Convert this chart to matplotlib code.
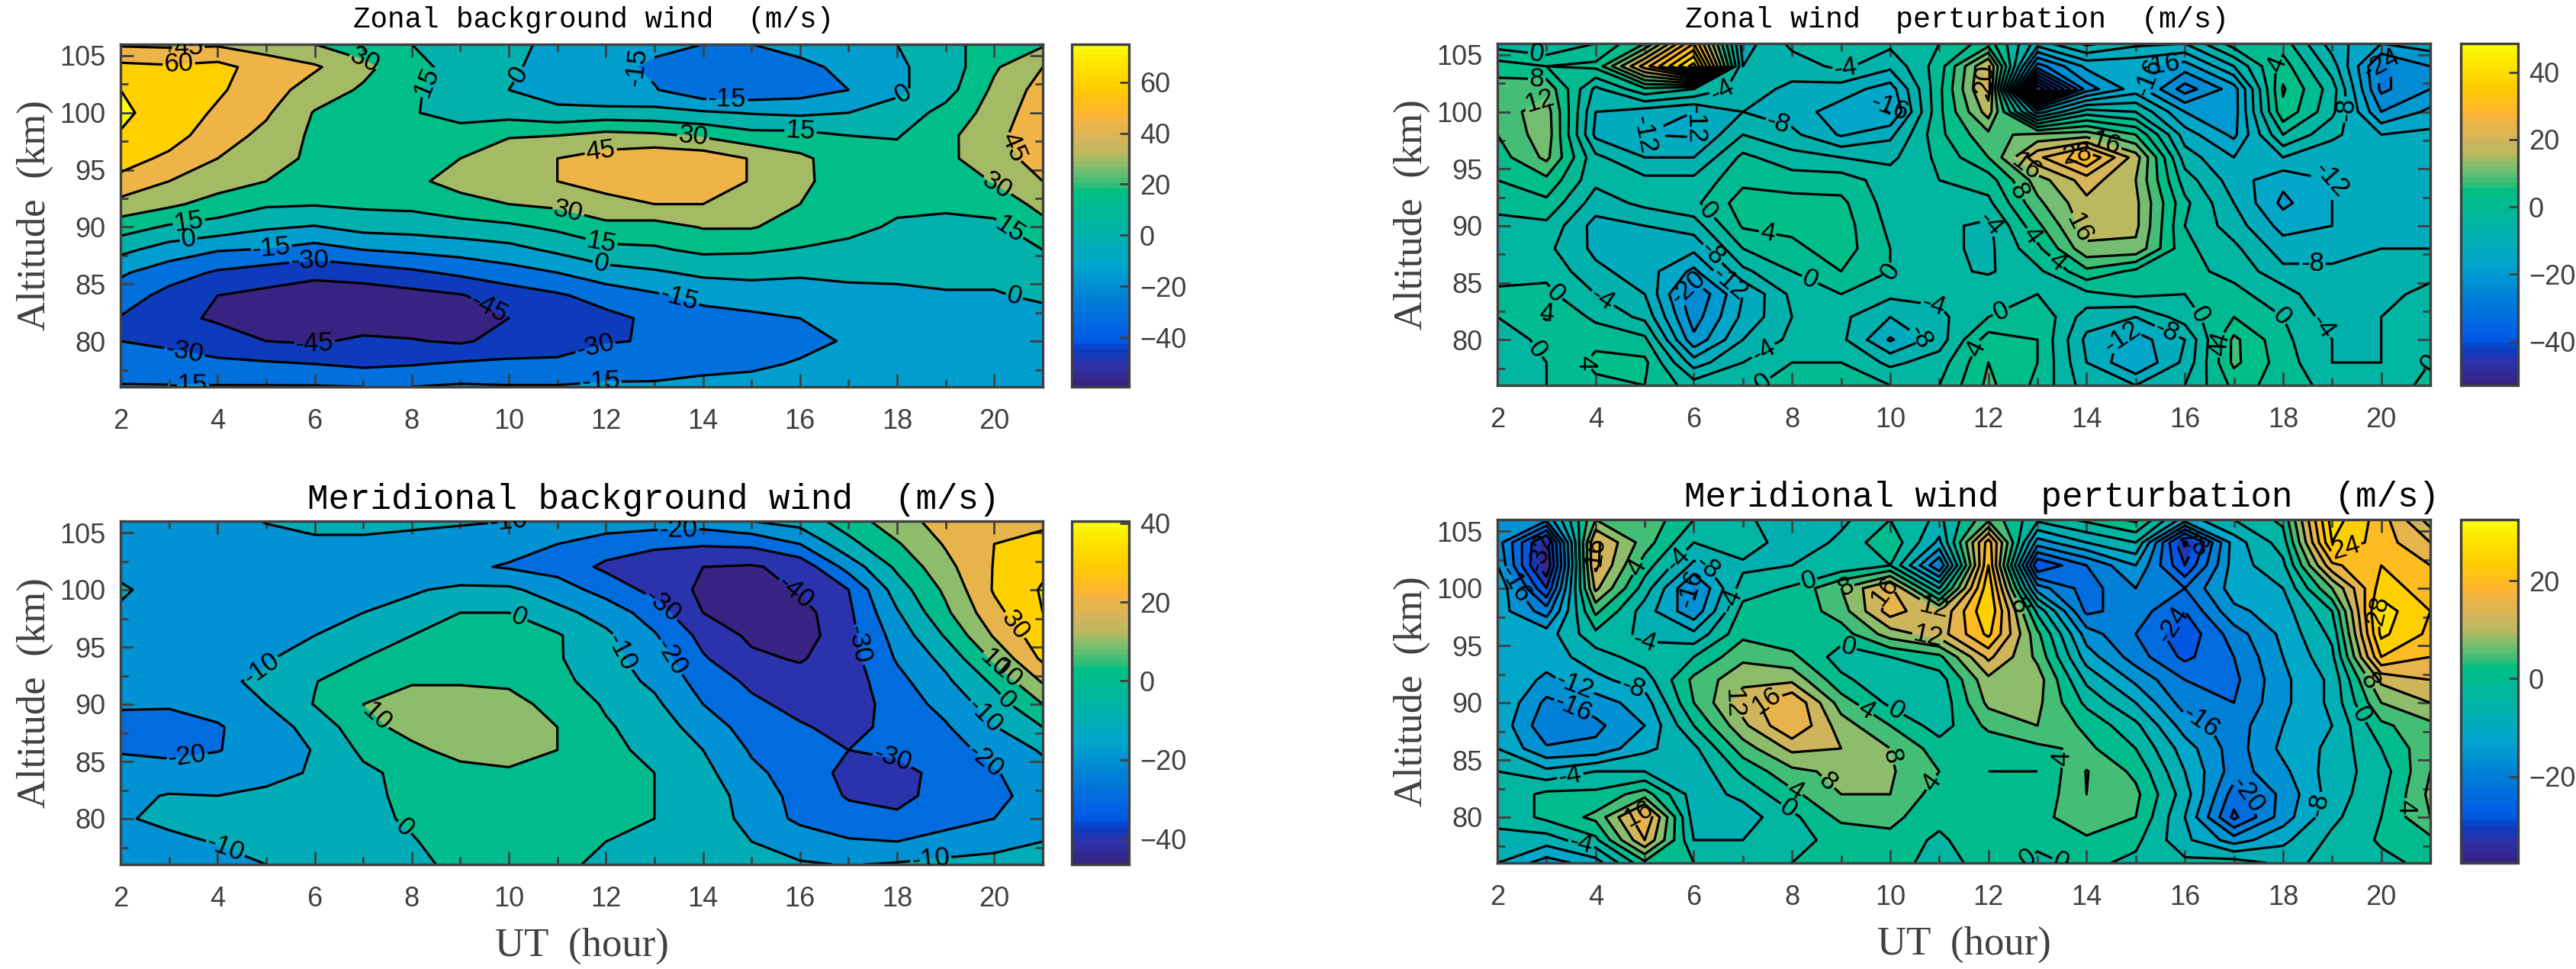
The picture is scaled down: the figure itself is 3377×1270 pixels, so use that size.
import numpy as np
import matplotlib
matplotlib.use("Agg")
import matplotlib.pyplot as plt
from matplotlib.colors import LinearSegmentedColormap, Normalize
from matplotlib.cm import ScalarMappable
from matplotlib.ticker import MultipleLocator

hours = list(range(2, 22))
altitudes = list(range(76, 107, 2))

# one row per hour (2..21), one value per altitude (76..106 km)
zonal_bg = [
 [-14,-22,-30,-31,-22,-13,4,22,40,56,66,74,78,75,64,43],
 [-14,-24,-33,-41,-35,-23,-7,13,33,45,57,66,68,67,62,42],
 [-14,-27,-38,-47,-45,-32,-14,9,24,37,45,52,58,62,65,43],
 [-14,-28,-45,-52,-49,-37,-16,2,17,30,36,41,47,52,53,38],
 [-14,-30,-47,-54,-53,-41,-21,-1,16,24,27,27,29,38,47,30],
 [-15,-33,-42,-54,-53,-38,-15,5,18,21,22,23,24,28,34,22],
 [-15,-31,-44,-53,-50,-33,-12,6,19,27,23,20,16,17,20,15],
 [-13,-28,-47,-52,-46,-27,-9,9,25,35,30,21,10,8,9,9],
 [-14,-27,-40,-45,-38,-21,-5,12,30,39,38,29,9,0,2,3],
 [-14,-27,-37,-38,-32,-15,3,18,33,45,45,30,4,-7,-5,-3],
 [-13,-22,-31,-34,-24,-6,11,26,40,51,51,35,6,-15,-10,-5],
 [-13,-21,-29,-27,-17,-2,13,24,45,53,56,33,5,-14,-18,-11],
 [-12,-18,-23,-20,-11,3,18,31,45,54,54,28,2,-26,-24,-15],
 [-11,-17,-21,-18,-8,4,17,31,39,44,44,20,-1,-26,-25,-15],
 [-10,-14,-18,-15,-7,2,14,24,30,33,33,20,-3,-22,-20,-8],
 [-9,-12,-14,-11,-4,3,11,19,22,23,22,15,0,-15,-10,-4],
 [-8,-11,-12,-9,-3,3,9,13,18,21,20,14,6,-3,-2,0],
 [-7,-9,-10,-7,-1,3,7,12,17,20,27,26,20,9,6,8],
 [-7,-8,-9,-6,-1,3,7,12,20,31,38,41,36,33,28,25],
 [-6,-7,-7,-4,2,8,15,25,35,45,52,55,55,51,45,28],
]
meridional_bg = [
 [-13,-13,-11,-12,-15,-21,-23,-19,-15,-13,-12,-11,-9,-12,-13,-14],
 [-14,-12,-8,-9.5,-15,-23,-24,-19,-15,-14,-13,-13,-13,-14,-14,-14],
 [-13,-9.5,-6,-10,-14,-20.5,-21,-16,-12,-13,-14,-15,-15,-15,-15,-14],
 [-10,-6,-4,-8,-13,-15,-14,-10,-8,-11,-14,-16,-16,-16,-14,-9.5],
 [-6,-3,-1,-3,-9,-9.5,-7,0.5,-0.5,-5,-10,-14,-16,-16,-12,-7],
 [-4,-3,-2,-2,-2,2,7,10,7,0,-6,-10,-14,-16,-12,-7],
 [-1,-0.5,1,2,3,8,13,15,9,4,0,-7,-11,-15,-13,-8],
 [1,3,4,5,7,13,17,15,9,5,2,0,-8,-18,-14,-9],
 [2,4,6,8,9,13,17,14,8,3,1,0,-8,-21,-16,-10],
 [1,3,5,6,8,10,10,6,3,1,1,-7,-15,-24,-20,-13],
 [-1,0,2,2,2,2,1,-1,-5,-7,-8,-14,-24,-32,-25,-14],
 [-2,-1,0,0,0,-2,-4,-8,-12,-15,-19,-25,-33,-36,-28,-15],
 [-4,-3,-3,-4,-7,-10,-15,-20,-24,-29,-33,-40,-42,-40,-29,-15],
 [-7,-10,-14,-15,-18,-21,-24,-28,-32,-38,-42,-45,-45,-41,-28,-10],
 [-9,-15,-22,-23,-24,-25,-29,-33,-36,-41,-45,-44,-39,-37,-20,-6],
 [-10.5,-19,-26,-31,-33,-30,-33,-36,-35,-34,-33,-32,-30,-16,-3,5],
 [-9,-20,-28,-33,-33,-28,-27,-25,-23,-19,-16,-11,-5,2,9,16],
 [-7,-17,-23,-26,-27,-25,-21,-17,-12,-7,1,8,12,17,21,24],
 [-7,-13,-20,-23,-21,-16,-10.5,-5,2,12,21,27,31,30.5,30,27],
 [-7,-10,-12,-15,-13,-9,0,10,21,32,36,40,41,38,33,28],
]
zonal_pert = [
 [-3,-3,-2,0,1,-2,-2,-1,1,4,6,8,10,10,6,-2],
 [0,0,1,4.5,1,-1,-3,-1,3,7,13,14.5,14,11,4,-4],
 [3,5,3,-1,-4,-7,-9,-9.5,-6,-3,-3,-9,-8,-5,5,0],
 [4,5,1,-5,-8,-10,-11,-8,-3,-3,-8,-12,-10,3,26,8],
 [-2,-10,-19,-22,-24,-17,-11,-6,-1,-3,-8,-12.5,-12,0,46,32],
 [-1,-4,-8,-11,-12,-5,0,4.5,6,3,1,-4,-8,-6,-8,-10],
 [2,0,-3,-4,-3,0,3,5,5.5,2,-2.5,-7,-10,-9,-6,-3],
 [2,0,-3,-3,0,4,6,6,5,2,-4,-12.5,-14,-10,-3,-2],
 [0,-5,-12.5,-8,-3,0,0,-1,-2,-2,-5,-9,-16.5,-14,-7,-3],
 [0,-2,-6,-5,-3,-3,-3,-3,-2,0,1,3,3,3,2,0],
 [9,8,6,0,-1,-4.5,-5,-5,-1,2,8,11,18,22,21,6],
 [3,4,4,3.5,0,-1,3,7,11,14,23,13,-14,-52,-26,-10],
 [-6,-8,-9,-6,-1,7,15,18,19,22,32,14,-2,-22,-15,-3],
 [-8,-16,-14,-8,1,3,15,17,17,16,18,8,-4,-14,-15,-7],
 [-4,-7,-8,-2,0,1,1,0,1,-2,-6,-10,-16,-26,-18,-8],
 [5,9,9,4,1,-1,-3,-6,-8,-10,-12,-17,-18,-18,-8,2],
 [3,2,1,0,-2,-7,-10,-13.5,-17,-15,-8,0,7,8.5,6,2],
 [-2,-4,-4,-6,-8,-7,-10,-12,-12,-12,-11,-7,-3,-2,-6,-10],
 [-2,-4,-4,-4,-5,-7,-8,-9,-9,-10,-10,-12,-20,-25,-25,-16],
 [1,0,0,-2,-3,-5,-8,-9,-9,-9,-8,-11,-15,-20,-20,-14],
]
meridional_pert = [
 [-8,-5,-3,-3,-4,-8,-9,-8,-8,-8,-8,-10,-8,-12,-14,-14],
 [-14,-6,1,1,-7,-15.5,-19,-17,-13,-10,-10,-18,-28,-36,-34,-15],
 [-10,-1,5,1,-4,-15,-17,-14,-9,-6,-1,5,13,17,17,8],
 [3,16,20,6,-4,-9,-12,-10,-6,-2,-5,-6,-2,2,6,7],
 [0,-4,-6,-6,-7,-5,0,4,5,0,-7,-15,-17,-9,-4,0],
 [0,-4,-6,-3,1,6,11,14,11,7,3,1.5,-2,-5,-1,-3],
 [0,-1,-1,3,7,13,20,20,11,5,1,1,0.5,-4,-7,-7],
 [2,1,5,8,9,12,10,6,1,-2,2,6,8,-3,-3,-5],
 [2,3,5,8,8.5,8,4,-1,-3,0,10,18,17,0,3,0],
 [-2,-1,1.5,2,4,2,-2,-3,-2,3,14,12,-4,-20,-9,-5],
 [2,4,3,1,0,1,5,9,11,17,25,28,27,24,22,7],
 [-1,1,3,1,0,3,8,9,10,7,5,-1,-14,-28,-14,-3],
 [1,3.5,6,8,8.2,5,3,-1,-5,-10,-14,-21,-22,-20,-8,1],
 [-1,1,4,5,3,0,-3,-8,-13,-18,-20,-18,-16,-12,-4,5],
 [-3,-7,-8,-6,-8,-10,-14,-18,-20,-25,-27,-24,-20,-28,-33,-10],
 [-2,-14,-25,-22,-18,-18,-18,-20,-21,-20,-18,-13,-10,-10,-10,-4],
 [-5,-9,-14,-15,-13,-11,-12,-13,-13,-12,-11,-10,-8,-5,-2,1],
 [-3,-3,-5,-6,-6,-7,-8,-7,-7,-5,-3,0,8,19,28,30],
 [-1,0.5,0,-1,-2,0,3,8,13,24,29,30,26,24,22,22],
 [1,3,8,9,8,7,7,12,16,20,23,24,22,20,16,10],
]

# where the contour labels sit (hour, altitude)
zonal_bg_labels = [(3.4,105.5),(3.2,104.4),(7,104.3),(8.4,102.5),(10.1,103.6),(12.3,103.7),(14.5,102.1),
 (18.1,101.8),(13.8,97.9),(11.9,96.5),(16,98),(20.3,96.8),(20,93.2),(20.2,89),(11.2,90.9),(3.4,90.6),
 (3.4,89),(5.1,88.5),(11.9,88.5),(11.9,86.7),(5.9,87),(13.5,83.6),(20.4,83.7),(9.5,82.2),(6,79.5),
 (3.3,78.7),(11.8,79.2),(3.4,76.2),(11.9,76.5)]
meridional_bg_labels = [(10.4,105.6),(13.5,104.5),(15.9,99.8),(13.1,98.3),(20.3,96.5),(12.3,94.5),(13.3,94),
 (17.1,95.1),(20,93.5),(20.1,92.2),(20.1,89.7),(19.7,88.6),(19.8,85),(10.2,97.5),(4.8,93.8),(7.3,89),
 (3.4,84.7),(17.9,85),(7.8,79),(4.2,77.8),(18.7,76.2)]
zonal_pert_labels = [(2.8,105.2),(2.8,102.5),(2.9,100.6),(4.8,98),(5.9,98.8),(9.1,103.6),(7.7,98.7),(9.9,101.3),
 (7.5,89.3),(6.2,90.9),(6.3,87.2),(5.9,84.5),(6.7,84.8),(8.4,85.6),(10,86),(12,90),(13.8,89.7),(13,89.5),
 (13.3,86.4),(12.2,83),(10.9,83.4),(10.8,81.4),(11.9,78.9),(14.7,80.5),(15.6,80.4),(16.2,81.9),(16.6,80),
 (16.8,79.2),(18,82.2),(18.7,80.8),(20.6,79.3),(18.6,87),(19,94.4),(20,104.4),(15.1,103.3),(15.4,104.2),
 (17.9,104.1),(13.8,96.4),(14.4,97.3),(12.8,95.4),(12.7,93.2),(11.9,102.9),(2.7,78.8),(3.6,78.4),(4.2,84),
 (3.3,84.5),(3,82.9),(7.3,79.9),(7.3,76.9),(19.3,100.2),(6.6,101.5)]
meridional_pert_labels = [(2.8,103.2),(2.3,100.2),(4,103.2),(4.9,101.7),(5.6,102.8),(6.2,101.6),(5.9,100.1),(5,95.4),
 (6.7,99),(8.3,101.2),(9.1,100),(9.9,99.7),(9.1,94),(10.9,98.4),(10.8,96.5),(12.6,98.4),(3.5,90.7),(3.5,89.2),
 (4.7,90.5),(7.5,90),(6.8,89.9),(9.5,89.3),(10.1,89.2),(9.9,85.2),(9,84.3),(8.1,82.6),(7.9,80.6),(11.4,81.3),
 (12.3,79.5),(13.5,85.1),(13.5,76.4),(3.5,83.2),(4.9,80),(3.7,77.6),(19.7,89.2),(19.8,92),(19.3,103.2),(20,98),
 (20.6,80.9),(16.3,88.1),(17.3,82),(18.9,80.9),(15.7,97),(16.1,104)]

titles = ["Zonal background wind  (m/s)", "Zonal wind  perturbation  (m/s)",
          "Meridional background wind  (m/s)", "Meridional wind  perturbation  (m/s)"]
ut_ticks = list(range(2, 21, 2))
alt_ticks = [80, 85, 90, 95, 100, 105]

W, H = 3377, 1270
GRAY = "#404040"
stops = [(0.00,(55,35,130)),(0.06,(45,50,170)),(0.10,(10,60,190)),(0.13,(0,90,230)),
         (0.25,(0,125,215)),(0.35,(0,165,205)),(0.45,(0,178,170)),(0.578,(0,192,128)),
         (0.585,(40,190,120)),(0.63,(110,190,115)),(0.68,(185,185,95)),(0.72,(210,180,90)),
         (0.78,(240,180,70)),(0.80,(255,180,50)),(0.88,(255,205,0)),(0.95,(255,230,0)),(1.00,(250,250,10))]
cmap = LinearSegmentedColormap.from_list("windmap", [(p, tuple(c/255 for c in rgb)) for p, rgb in stops], N=64)

plt.rcParams["font.family"] = "Liberation Sans"

def box(x0, x1, y0, y1):
    return [x0/W, 1-y1/H, (x1-x0)/W, (y1-y0)/H]

panels = [
 (zonal_bg, titles[0], (-59.3, 74.8), list(range(-45, 76, 15)), (158,1367,58,507), (1405,1480), [-40,-20,0,20,40,60], False, (778,26,27), zonal_bg_labels),
 (zonal_pert, titles[1], (-53, 48.5), list(range(-52, 49, 4)), (1963,3186,57,505), (3226,3301), [-40,-20,0,20,40], False, (2565,26,27.5), zonal_pert_labels),
 (meridional_bg, titles[2], (-46.5, 40.5), list(range(-40, 41, 10)), (158,1367,683,1133), (1405,1480), [-40,-20,0,20,40], True, (857,655,33), meridional_bg_labels),
 (meridional_pert, titles[3], (-37.7, 32.5), list(range(-36, 33, 4)), (1963,3186,681,1131), (3226,3301), [-20,0,20], True, (2703,652,33), meridional_pert_labels),
]

fig = plt.figure(figsize=(W/100, H/100), dpi=100, facecolor="white")

for data, title, (vmin, vmax), levels, (x0, x1, y0, y1), (c0, c1), cticks, show_x, (tx, ty, tsize), label_at in panels:
    ax = fig.add_axes(box(x0, x1, y0, y1))
    Z = np.array(data, dtype=float).T
    norm = Normalize(vmin, vmax)
    bounds = [min(Z.min(), vmin) - 1] + levels + [max(Z.max(), vmax) + 1]
    lowers = [vmin] + levels
    fills = [cmap(norm(min(l, vmax))) for l in lowers]
    ax.contourf(hours, altitudes, Z, levels=bounds, colors=fills)
    cs = ax.contour(hours, altitudes, Z, levels=levels, colors="black", linewidths=2.3, linestyles="solid")
    ax.clabel(cs, inline=True, fmt="%g", fontsize=25, inline_spacing=2, manual=label_at)
    ax.set_xlim(2, 21)
    ax.set_ylim(76, 106)
    ax.set_xticks(ut_ticks)
    ax.set_yticks(alt_ticks)
    ax.xaxis.set_minor_locator(MultipleLocator(1))
    ax.yaxis.set_minor_locator(MultipleLocator(2.5))
    ax.tick_params(which="both", direction="in", top=True, right=True, color=GRAY, width=2,
                   labelcolor=GRAY, labelsize=26, pad=14)
    ax.tick_params(axis="x", which="both", pad=20)
    ax.tick_params(which="major", length=12)
    ax.tick_params(which="minor", length=7)
    for s in ax.spines.values():
        s.set_color(GRAY)
        s.set_linewidth(2.4)
    fig.text(tx/W, 1-ty/H, title, family="Liberation Mono", fontsize=tsize, color="black", ha="center", va="center")
    ax.set_ylabel("Altitude  (km)", family="Liberation Serif", fontsize=38, color=GRAY, labelpad=6)
    if show_x:
        ax.set_xlabel("UT  (hour)", family="Liberation Serif", fontsize=38, color=GRAY, labelpad=14)

    cax = fig.add_axes(box(c0, c1, y0, y1))
    cb = fig.colorbar(ScalarMappable(norm=norm, cmap=cmap), cax=cax)
    cb.set_ticks(cticks)
    cb.ax.tick_params(direction="in", length=9, width=2, color=GRAY, labelcolor=GRAY, labelsize=26, pad=10)
    cb.outline.set_edgecolor(GRAY)
    cb.outline.set_linewidth(2.4)

fig.savefig("out.png", dpi=100)
